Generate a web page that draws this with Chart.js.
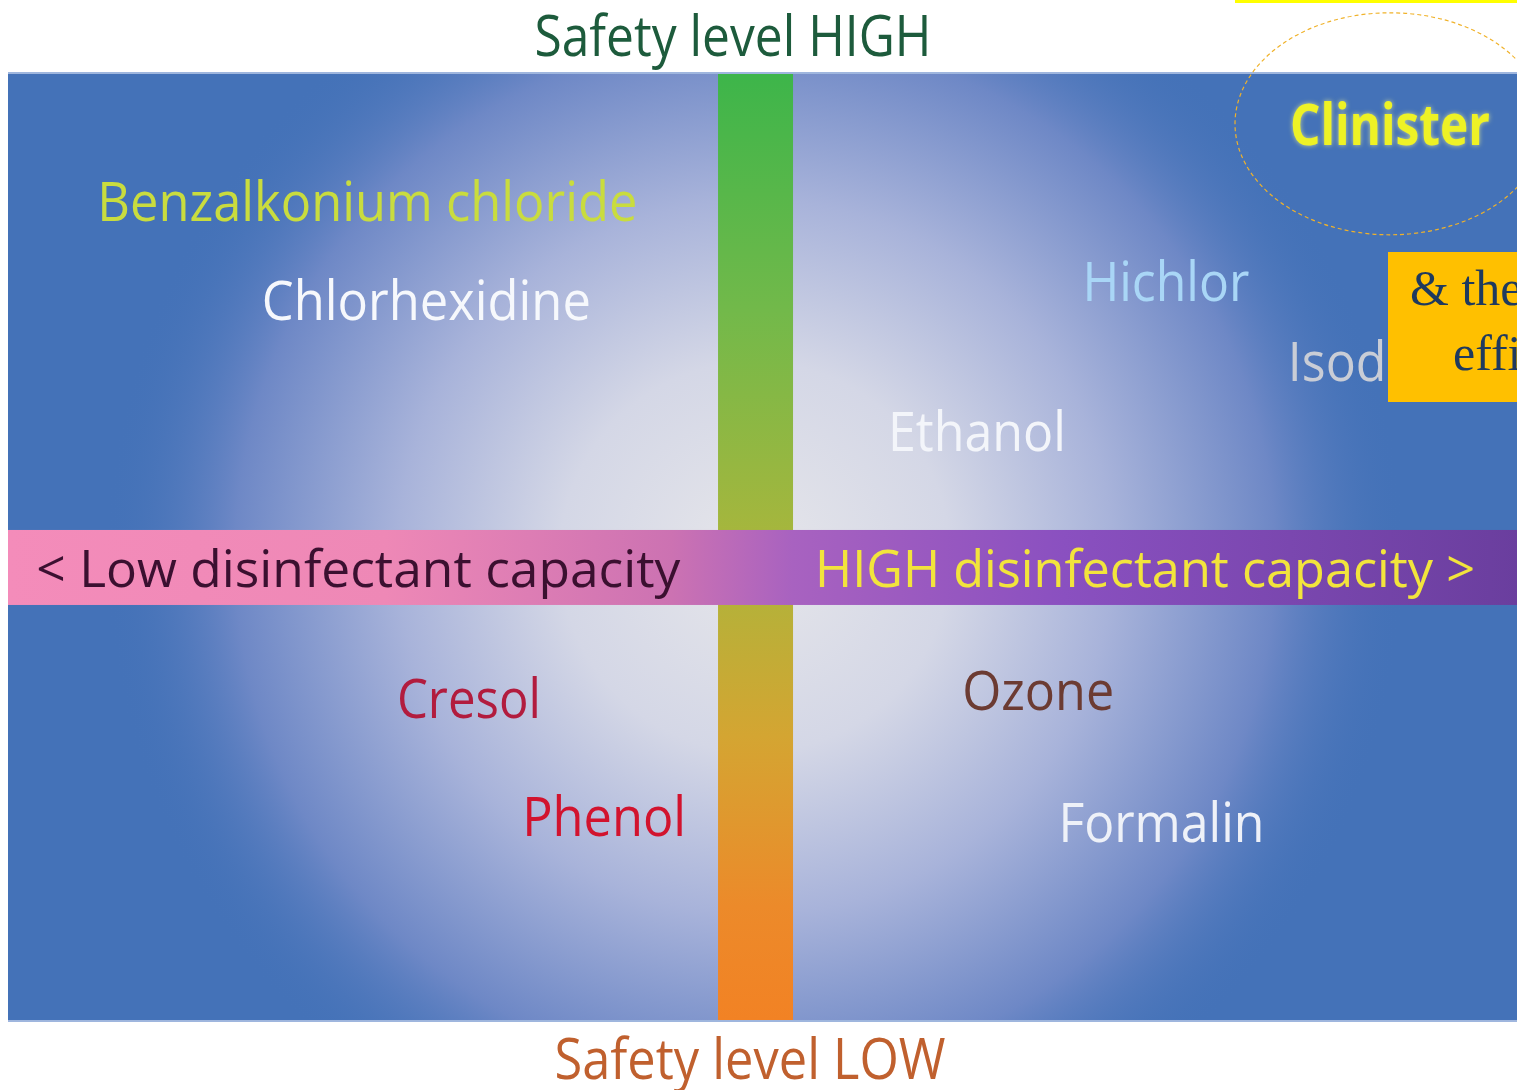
<!DOCTYPE html>
<html>
<head>
<meta charset="utf-8">
<script src="https://cdn.jsdelivr.net/npm/chart.js@4.4.0/dist/chart.umd.min.js"></script>
<style>
  html, body { margin: 0; padding: 0; background: #ffffff; overflow: hidden; }
  canvas { display: block; }
</style>
</head>
<body>
<canvas id="quadChart" width="1517" height="1090"></canvas>
<script>
// disinfectants placed by capacity (x) and safety (y)
const agents = ['Benzalkonium chloride', 'Chlorhexidine', 'Hichlor', 'Isodine', 'Ethanol',
  'Cresol', 'Phenol', 'Ozone', 'Formalin', 'Clinister'];
const capacity = [-5.19, -4.40, 5.50, 8.27, 2.97, -3.83, -2.02, 3.79, 5.44, 8.50];
const safety = [7.44, 5.42, 5.82, 4.20, 2.78, -2.64, -5.03, -2.49, -5.17, 8.99];

const axisLabels = ['< Low disinfectant capacity', 'HIGH disinfectant capacity >'];
const axisLabelX = [-5.31, 5.22];
const safetyLabels = ['Safety level HIGH', 'Safety level LOW'];

const FONT = '"Open Sans", "Noto Sans", sans-serif';

// look of each label: colour, size, width on screen
const labelStyle = {
  'Benzalkonium chloride': { color: '#c9dc3e', size: 55, width: 540 },
  'Chlorhexidine': { color: '#f6f8fc', size: 55, width: 329 },
  'Hichlor': { color: '#a9d6f6', size: 55, width: 167 },
  'Isodine': { color: '#c9cdd6', size: 55, width: 170 },
  'Ethanol': { color: '#f3f5fa', size: 55, width: 178 },
  'Cresol': { color: '#b21c3e', size: 55, width: 144 },
  'Phenol': { color: '#d2132e', size: 55, width: 164 },
  'Ozone': { color: '#6c3b32', size: 55, width: 152 },
  'Formalin': { color: '#eef1f8', size: 55, width: 206 },
  'Clinister': { color: '#eef225', size: 58, width: 200, bold: true }
};

function drawText(c, text, x, y, opt) {
  c.save();
  c.font = (opt.bold ? 'bold ' : '') + opt.size + 'px ' + FONT;
  c.textBaseline = 'middle';
  c.textAlign = 'left';
  const w = c.measureText(text).width;
  const k = opt.width ? opt.width / w : 1;
  const left = x - (opt.width || w) / 2;
  c.translate(left, y + 5);
  c.scale(k, 1);
  if (opt.glow) {
    c.shadowColor = opt.glow;
    c.shadowBlur = 5;
  }
  c.fillStyle = opt.color;
  c.fillText(text, 0, 0);
  c.restore();
}

const quadrantPlugin = {
  id: 'quadrant',
  beforeDatasetsDraw(chart) {
    const { ctx: c, chartArea: a, scales } = chart;
    const x0 = scales.x.getPixelForValue(0);
    const y0 = scales.y.getPixelForValue(0);

    c.save();
    // blue field with a pale glow in the middle
    c.fillStyle = '#4472b8';
    c.fillRect(a.left, a.top, a.right - a.left, a.bottom - a.top);
    const g = c.createRadialGradient(x0, y0 - 10, 0, x0, y0 - 10, 650);
    g.addColorStop(0, '#e6e6ea');
    g.addColorStop(0.3, '#d4d7e6');
    g.addColorStop(0.55, '#a8b3da');
    g.addColorStop(0.8, '#6e88c6');
    g.addColorStop(1, 'rgba(68,114,184,0)');
    c.fillStyle = g;
    c.fillRect(a.left, a.top, a.right - a.left, a.bottom - a.top);
    c.fillStyle = '#9fb6de';
    c.fillRect(a.left, a.top - 2, a.right - a.left, 2);
    c.fillRect(a.left, a.bottom, a.right - a.left, 2);

    // safety bar (vertical)
    const vg = c.createLinearGradient(0, a.top, 0, a.bottom);
    vg.addColorStop(0, '#3db54a');
    vg.addColorStop(0.25, '#72b94a');
    vg.addColorStop(0.5, '#a9b63c');
    vg.addColorStop(0.7, '#d4a532');
    vg.addColorStop(0.88, '#ec8a2a');
    vg.addColorStop(1, '#f28224');
    c.fillStyle = vg;
    c.fillRect(x0 - 37, a.top, 75, a.bottom - a.top);

    // capacity bar (horizontal)
    const hg = c.createLinearGradient(a.left, 0, a.right, 0);
    hg.addColorStop(0, '#f48cba');
    hg.addColorStop(0.25, '#ee88b6');
    hg.addColorStop(0.44, '#cc72b2');
    hg.addColorStop(0.52, '#a862c0');
    hg.addColorStop(0.7, '#8a50c0');
    hg.addColorStop(1, '#6a3e9e');
    c.fillStyle = hg;
    c.fillRect(a.left, y0 - 37, a.right - a.left, 75);
    c.restore();
  },
  afterDatasetsDraw(chart) {
    const { ctx: c, chartArea: a, scales } = chart;
    const sx = scales.x, sy = scales.y;
    const y0 = sy.getPixelForValue(0);

    // agent names at their data points
    agents.forEach((name, i) => {
      const st = labelStyle[name];
      drawText(c, name, sx.getPixelForValue(capacity[i]), sy.getPixelForValue(safety[i]),
        name === 'Clinister' ? Object.assign({ glow: 'rgba(255,255,140,0.7)' }, st) : st);
    });

    // axis captions on the horizontal bar
    drawText(c, axisLabels[0], sx.getPixelForValue(axisLabelX[0]), y0, { color: '#3b1030', size: 52, width: 644 });
    drawText(c, axisLabels[1], sx.getPixelForValue(axisLabelX[1]), y0, { color: '#f2e43c', size: 52, width: 660 });

    // safety captions above and below the field
    drawText(c, safetyLabels[0], 733, a.top - 39, { color: '#1d5b3c', size: 56, width: 397 });
    drawText(c, safetyLabels[1], 750, a.bottom + 38, { color: '#c0602e', size: 56, width: 391 });

    // dashed ring round Clinister
    const ci = agents.indexOf('Clinister');
    const cx = sx.getPixelForValue(capacity[ci]);
    const cy = sy.getPixelForValue(safety[ci]);
    c.save();
    c.strokeStyle = '#f0b22a';
    c.lineWidth = 1.2;
    c.setLineDash([4, 3]);
    c.beginPath();
    c.ellipse(cx, cy, 155, 111, 0, 0, Math.PI * 2);
    c.stroke();
    c.restore();

    // yellow strip at the very top
    c.fillStyle = '#ffff00';
    c.fillRect(1235, 0, 282, 3);

    // orange note box, cut off at the right edge
    c.save();
    c.fillStyle = '#ffc000';
    c.fillRect(1388, 252, 140, 150);
    c.beginPath();
    c.rect(1388, 252, 140, 150);
    c.clip();
    c.fillStyle = '#1f3a5e';
    c.font = '50px "Liberation Serif", "DejaVu Serif", serif';
    c.textBaseline = 'alphabetic';
    c.fillText('& their', 1410, 305);
    c.fillText('efficacy', 1453, 370);
    c.restore();
  }
};

const ctx = document.getElementById('quadChart');

new Chart(ctx, {
  type: 'scatter',
  data: {
    labels: agents,
    datasets: [
      {
        data: agents.map((n, i) => ({ x: capacity[i], y: safety[i] })),
        pointRadius: 0,
        pointHoverRadius: 0
      }
    ]
  },
  options: {
    responsive: false,
    animation: false,
    events: [],
    layout: { padding: { left: 8, top: 74, right: 0, bottom: 70 } },
    plugins: {
      legend: { display: false },
      tooltip: { enabled: false }
    },
    scales: {
      x: { display: false, min: -10, max: 10.2 },
      y: { display: false, min: -9.19, max: 10 }
    }
  },
  plugins: [quadrantPlugin]
});
</script>
</body>
</html>
